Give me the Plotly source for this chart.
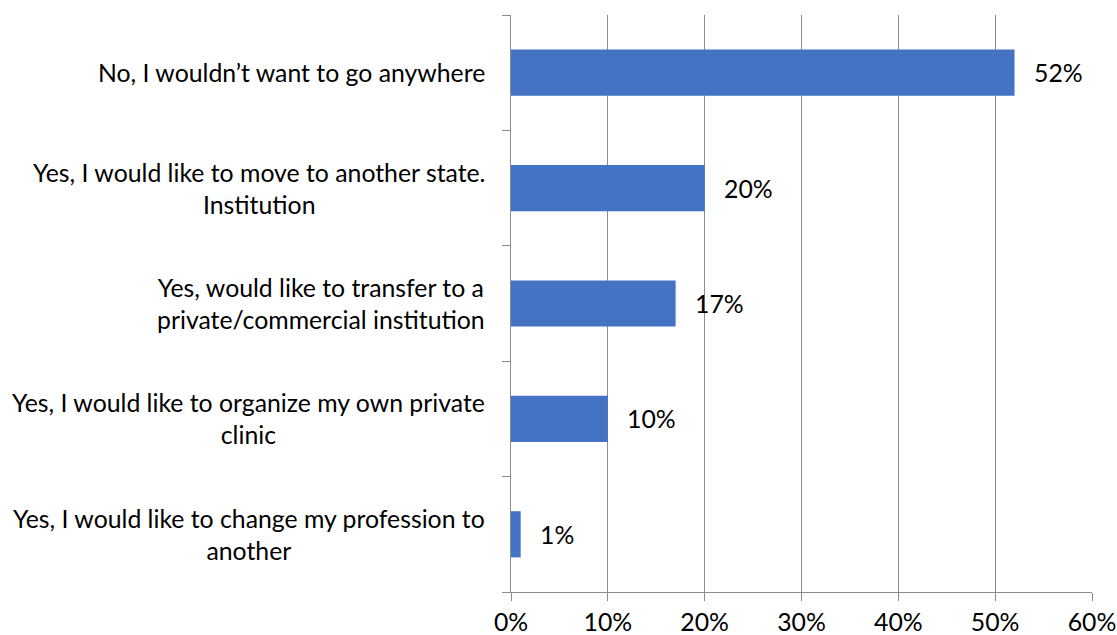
import plotly.graph_objects as go

# Survey responses: share of respondents per answer
categories = [
    "No, I wouldn’t want to go anywhere",
    "Yes, I would like to move to another state.<br>Institution",
    "Yes, would like to transfer to a<br>private/commercial institution",
    "Yes, I would like to organize my own private<br>clinic",
    "Yes, I would like to change my profession to<br>another",
]
values = [52, 20, 17, 10, 1]
x_ticks = [0, 10, 20, 30, 40, 50, 60]
x_tick_labels = ["0%", "10%", "20%", "30%", "40%", "50%", "60%"]

FONT = "Lato"
FS = 24.8
BAR_COLOR = "#4472C4"
GRID = "#8c8c8c"

fig = go.Figure()
fig.add_trace(go.Bar(
    x=values,
    y=categories,
    orientation="h",
    marker=dict(color=BAR_COLOR, line=dict(width=0)),
    hoverinfo="skip",
))

annotations = []
# value labels to the right of each bar
for cat, val in zip(categories, values):
    annotations.append(dict(
        x=val, y=cat, xref="x", yref="y",
        text=f"{val}%", showarrow=False,
        xanchor="left", xshift=17,
        font=dict(family=FONT, size=FS, color="black"),
    ))
# category labels, centre-aligned lines, right-aligned block
for cat in categories:
    annotations.append(dict(
        x=0, y=cat, xref="paper", yref="y",
        text=cat, showarrow=False,
        xanchor="right", xshift=-24, align="center",
        font=dict(family=FONT, size=FS, color="black"),
    ))

fig.update_layout(
    width=1117, height=635,
    margin=dict(l=511, r=25, t=15, b=43),
    paper_bgcolor="white", plot_bgcolor="white",
    bargap=0.6,
    showlegend=False,
    annotations=annotations,
    font=dict(family=FONT, size=FS, color="black"),
)
fig.update_xaxes(
    range=[0, 60],
    tickvals=x_ticks, ticktext=x_tick_labels,
    showgrid=True, gridcolor=GRID, gridwidth=1,
    showline=True, linecolor=GRID, linewidth=1,
    ticks="outside", ticklen=8, tickcolor=GRID,
    zeroline=False, automargin=False,
    tickfont=dict(family=FONT, size=FS, color="black"),
)
fig.update_yaxes(
    categoryorder="array", categoryarray=categories[::-1],
    showticklabels=False,
    showgrid=False,
    showline=True, linecolor=GRID, linewidth=1,
    ticks="outside", ticklen=8, tickcolor=GRID,
    tickson="boundaries",
    zeroline=False, automargin=False,
)

fig.write_html("out.html")
